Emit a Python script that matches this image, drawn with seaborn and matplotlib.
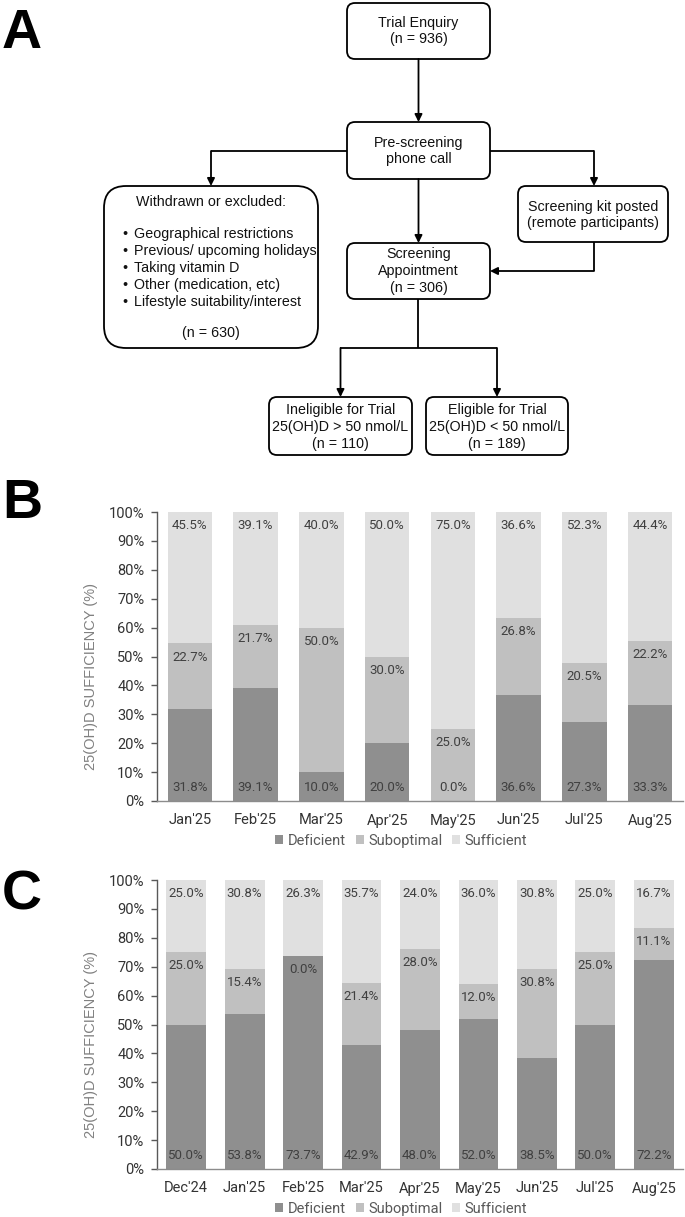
import matplotlib
matplotlib.use("Agg")
import matplotlib.pyplot as plt
from matplotlib.patches import FancyBboxPatch, Patch
import seaborn as sns
import pandas as pd

sns.set_style("white")
plt.rcParams['font.family'] = ['Roboto', 'DejaVu Sans']

# ---------------- data ----------------
months_b = ["Jan'25", "Feb'25", "Mar'25", "Apr'25", "May'25", "Jun'25", "Jul'25", "Aug'25"]
deficient_b = [31.8, 39.1, 10.0, 20.0, 0.0, 36.6, 27.3, 33.3]
suboptimal_b = [22.7, 21.7, 50.0, 30.0, 25.0, 26.8, 20.5, 22.2]
sufficient_b = [45.5, 39.1, 40.0, 50.0, 75.0, 36.6, 52.3, 44.4]

months_c = ["Dec'24", "Jan'25", "Feb'25", "Mar'25", "Apr'25", "May'25", "Jun'25", "Jul'25", "Aug'25"]
deficient_c = [50.0, 53.8, 73.7, 42.9, 48.0, 52.0, 38.5, 50.0, 72.2]
suboptimal_c = [25.0, 15.4, 0.0, 21.4, 28.0, 12.0, 30.8, 25.0, 11.1]
sufficient_c = [25.0, 30.8, 26.3, 35.7, 24.0, 36.0, 30.8, 25.0, 16.7]

series_names = ["Deficient", "Suboptimal", "Sufficient"]
series_colors = ["#8f8f8f", "#c0c0c0", "#e0e0e0"]
y_ticks = [0, 10, 20, 30, 40, 50, 60, 70, 80, 90, 100]
y_label = "25(OH)D SUFFICIENCY (%)"

# flowchart texts
txt_trial = "Trial Enquiry\n(n = 936)"
txt_pre = "Pre-screening\nphone call"
txt_withdrawn_title = "Withdrawn or excluded:"
txt_withdrawn_items = ["Geographical restrictions", "Previous/ upcoming holidays",
                       "Taking vitamin D", "Other (medication, etc)",
                       "Lifestyle suitability/interest"]
txt_withdrawn_n = "(n = 630)"
txt_kit = "Screening kit posted\n(remote participants)"
txt_appt = "Screening\nAppointment\n(n = 306)"
txt_inel = "Ineligible for Trial\n25(OH)D > 50 nmol/L\n(n = 110)"
txt_el = "Eligible for Trial\n25(OH)D < 50 nmol/L\n(n = 189)"

W, H = 685, 1217
fig = plt.figure(figsize=(W / 100, H / 100), dpi=100)

# ---------------- overlay (panel A + letters) in pixel coords ----------------
ov = fig.add_axes([0, 0, 1, 1])
ov.set_xlim(0, W)
ov.set_ylim(H, 0)
ov.axis("off")
ov.patch.set_alpha(0)

FF = ['Liberation Sans', 'DejaVu Sans']
FS = 10.3


def box(x0, y0, x1, y1, r=8):
    ov.add_patch(FancyBboxPatch((x0, y0), x1 - x0, y1 - y0,
                                boxstyle=f"round,pad=0,rounding_size={r}",
                                fc="white", ec="black", lw=1.3, zorder=2))


def line(xs, ys):
    ov.plot(xs, ys, color="black", lw=1.3, zorder=1, solid_capstyle="butt")


def arrow(x0, y0, x1, y1):
    ov.annotate("", xy=(x1, y1), xytext=(x0, y0),
                arrowprops=dict(arrowstyle="-|>", color="black", lw=1.3,
                                mutation_scale=11, shrinkA=0, shrinkB=0),
                zorder=3)


def label(x, y, s, **kw):
    ov.text(x, y, s, ha="center", va="center", fontsize=FS, family=FF,
            color="#111111", linespacing=1.25, zorder=4, **kw)


box(347, 3, 490, 59)
label(418.5, 31, txt_trial)
box(347, 122, 490, 179)
label(418.5, 151, txt_pre)
box(104, 186, 318, 348, r=22)
label(211, 202, txt_withdrawn_title)
for i, item in enumerate(txt_withdrawn_items):
    yy = 234 + i * 17
    ov.text(122, yy, "\u2022", ha="left", va="center", fontsize=FS, family=FF, color="#111111")
    ov.text(134, yy, item, ha="left", va="center", fontsize=FS, family=FF, color="#111111")
label(211, 333, txt_withdrawn_n)
box(518, 186, 668, 242)
label(593, 215, txt_kit)
box(347, 243, 490, 299)
label(418.5, 271, txt_appt)
box(269, 397, 412, 455)
label(340.5, 427, txt_inel)
box(426, 397, 568, 455)
label(497, 427, txt_el)

arrow(418.5, 59, 418.5, 122)
line([347, 211], [151, 151]); arrow(211, 151, 211, 186)
line([490, 594], [151, 151]); arrow(594, 151, 594, 186)
arrow(418.5, 179, 418.5, 243)
line([594, 594], [242, 271]); arrow(594, 271, 490, 271)
line([418.5, 418.5], [299, 348]); line([340.5, 497], [348, 348])
arrow(340.5, 348, 340.5, 397); arrow(497, 348, 497, 397)

for letter, yb in [("A", 48), ("B", 518), ("C", 910)]:
    ov.text(2, yb, letter, ha="left", va="baseline", fontsize=40,
            fontweight="bold", family=FF, color="black")


# ---------------- stacked bar panels ----------------
LBL = 9.5


def stacked(ax, months, d, s, f):
    df = pd.DataFrame({"month": months, "d": d, "s": s, "f": f})
    df["ds"] = df["d"] + df["s"]
    df["dsf"] = df["ds"] + df["f"]
    for col, c in zip(["dsf", "ds", "d"], series_colors[::-1]):
        sns.barplot(data=df, x="month", y=col, color=c, saturation=1,
                    width=0.68, ax=ax, edgecolor="none")
    for i, row in df.iterrows():
        ax.text(i, 4.5, f"{row['d']:.1f}%", ha="center", va="center",
                fontsize=LBL, color="#404040")
        ax.text(i, row["ds"] - 4.7, f"{row['s']:.1f}%", ha="center", va="center",
                fontsize=LBL, color="#404040")
        ax.text(i, row["dsf"] - 4.6, f"{row['f']:.1f}%", ha="center", va="center",
                fontsize=LBL, color="#404040")
    ax.set_xlim(-0.5, len(months) - 0.5)
    ax.set_ylim(0, 100)
    ax.set_yticks(y_ticks)
    ax.set_yticklabels([f"{t}%" for t in y_ticks])
    ax.set_xlabel("")
    ax.set_ylabel(y_label, fontsize=10.5, color="#808080", family=FF)
    ax.yaxis.set_label_coords(-0.112, 0.43)
    for sp in ["top", "right"]:
        ax.spines[sp].set_visible(False)
    ax.spines["left"].set_color("#595959")
    ax.spines["bottom"].set_color("#8c8c8c")
    ax.spines["left"].set_linewidth(1.0)
    ax.spines["bottom"].set_linewidth(1.0)
    ax.tick_params(axis="y", length=4, width=1, color="#595959", pad=5,
                   labelsize=10.5, labelcolor="#333333", left=True)
    ax.tick_params(axis="x", length=0, pad=9, labelsize=10.5, labelcolor="#333333")
    handles = [Patch(facecolor=c, edgecolor="none", label=n)
               for n, c in zip(series_names, series_colors)]
    ax.legend(handles=handles, loc="center", bbox_to_anchor=(0.464, -0.137),
              ncol=3, frameon=False, fontsize=10.5, handlelength=0.55,
              handleheight=0.55, handletextpad=0.3, columnspacing=0.7,
              labelcolor="#595959")


axB = fig.add_axes([157 / W, 1 - 801 / H, 526 / W, 289 / H])
stacked(axB, months_b, deficient_b, suboptimal_b, sufficient_b)
axC = fig.add_axes([157 / W, 1 - 1169 / H, 526 / W, 289 / H])
stacked(axC, months_c, deficient_c, suboptimal_c, sufficient_c)

fig.savefig("out.png", dpi=100)
